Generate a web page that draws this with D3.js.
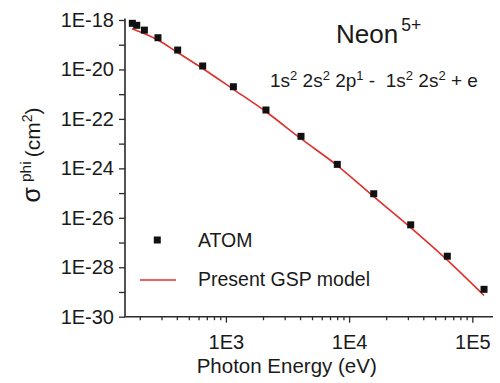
<!DOCTYPE html>
<html>
<head>
<meta charset="utf-8">
<script src="https://cdn.jsdelivr.net/npm/d3@7"></script>
<style>
  html, body { margin: 0; padding: 0; background: #fff; }
  svg { display: block; font-family: "Liberation Sans", Arial, sans-serif; }
  text { white-space: pre; }
</style>
</head>
<body>
<svg id="chart" width="500" height="383"></svg>
<script>
// ATOM photoionization cross sections (eV, cm^2)
const atomEnergy = [174, 189, 218, 281, 406, 648, 1150, 2115, 4070, 8020, 15850, 31620, 62700, 124500];
const atomSigma  = [7.35e-19, 6.1e-19, 3.9e-19, 1.92e-19, 6.1e-20, 1.38e-20, 2.0e-21, 2.29e-22,
                    1.97e-23, 1.45e-24, 9.4e-26, 5.2e-27, 2.8e-28, 1.28e-29];

// Present GSP model curve
const modelEnergy = [173, 281, 406, 648, 1150, 2115, 4070, 8020, 15850, 31620, 62700, 124500];
const modelSigma  = [4.45e-19, 1.55e-19, 4.84e-20, 1.09e-20, 1.57e-21, 1.95e-22, 1.58e-23,
                     1.30e-24, 7.2e-26, 4.0e-27, 1.95e-28, 7.2e-30];

// Axis ticks
const xMajorTicks = [1e3, 1e4, 1e5];
const xMinorTicks = [200, 300, 400, 500, 600, 700, 800, 900,
                     2000, 3000, 4000, 5000, 6000, 7000, 8000, 9000,
                     20000, 30000, 40000, 50000, 60000, 70000, 80000, 90000];
const yMajorTicks = [1e-18, 1e-20, 1e-22, 1e-24, 1e-26, 1e-28, 1e-30];
const yMinorTicks = [1e-19, 1e-21, 1e-23, 1e-25, 1e-27, 1e-29];

const legendLabels = ["ATOM", "Present GSP model"];

const svg = d3.select("#chart");
const plotLeft = 125, plotRight = 493, plotTop = 20, plotBottom = 316.7;

// x: log scale anchored on the decade ticks, then widened to the axis extent
const xs = d3.scaleLog().domain([1e3, 1e5]).range([225.9, 472.3]);
const x = d3.scaleLog().domain([xs.invert(plotLeft), xs.invert(plotRight)]).range([plotLeft, plotRight]);
const y = d3.scaleLog().domain([1e-30, 1e-18]).range([plotBottom, plotTop]);

const expLabel = d => "1E" + Math.round(Math.log10(d));

const axisColor = "#2a2a2a";
const textColor = "#1a1a1a";
const fontFam = "Liberation Sans, Arial, sans-serif";

// Left axis
const gy = svg.append("g").attr("transform", `translate(${plotLeft},0)`);
gy.call(d3.axisLeft(y).tickValues(yMajorTicks).tickFormat(expLabel).tickSize(6).tickPadding(5));
gy.call(g => g.select(".domain").remove());
gy.selectAll(".tick line").attr("stroke", axisColor).attr("stroke-width", 1.3);
gy.selectAll(".tick text").attr("font-size", 20).attr("fill", textColor).attr("font-family", fontFam);
const gyMinor = svg.append("g").attr("transform", `translate(${plotLeft},0)`);
gyMinor.call(d3.axisLeft(y).tickValues(yMinorTicks).tickFormat("").tickSize(6));
gyMinor.call(g => g.select(".domain").remove());
gyMinor.selectAll(".tick line").attr("stroke", axisColor).attr("stroke-width", 1.3);

// Bottom axis
const gx = svg.append("g").attr("transform", `translate(0,${plotBottom})`);
gx.call(d3.axisBottom(x).tickValues(xMajorTicks).tickFormat(expLabel).tickSize(6).tickPadding(12));
gx.call(g => g.select(".domain").remove());
gx.selectAll(".tick line").attr("stroke", axisColor).attr("stroke-width", 1.3);
gx.selectAll(".tick text").attr("font-size", 20).attr("fill", textColor).attr("font-family", fontFam);
const gxMinor = svg.append("g").attr("transform", `translate(0,${plotBottom})`);
gxMinor.call(d3.axisBottom(x).tickValues(xMinorTicks).tickFormat("").tickSize(3.5));
gxMinor.call(g => g.select(".domain").remove());
gxMinor.selectAll(".tick line").attr("stroke", axisColor).attr("stroke-width", 1.3);

// Axis lines
svg.append("path")
  .attr("d", `M${plotLeft},${plotTop - 1.5}V${plotBottom}H${plotRight}`)
  .attr("fill", "none").attr("stroke", axisColor).attr("stroke-width", 1.6);

// Model curve
const line = d3.line()
  .x((d, i) => x(modelEnergy[i]))
  .y((d, i) => y(modelSigma[i]))
  .curve(d3.curveMonotoneX);
svg.append("path")
  .datum(modelEnergy)
  .attr("d", line)
  .attr("fill", "none")
  .attr("stroke", "#e0312b")
  .attr("stroke-width", 1.6);

// ATOM points
const sq = 7;
svg.append("g").selectAll("rect")
  .data(atomEnergy)
  .join("rect")
  .attr("x", d => x(d) - sq / 2)
  .attr("y", (d, i) => y(atomSigma[i]) - sq / 2)
  .attr("width", sq).attr("height", sq)
  .attr("fill", "#111");

// Legend
const lg = svg.append("g");
lg.append("rect").attr("x", 157.3 - sq / 2).attr("y", 240 - sq / 2)
  .attr("width", sq).attr("height", sq).attr("fill", "#111");
lg.append("text").attr("x", 198).attr("y", 246.5).attr("font-size", 19.5)
  .attr("fill", textColor).text(legendLabels[0]);
lg.append("line").attr("x1", 140).attr("x2", 176).attr("y1", 280).attr("y2", 280)
  .attr("stroke", "#e0312b").attr("stroke-width", 1.6);
lg.append("text").attr("x", 198).attr("y", 285.5).attr("font-size", 19.5)
  .attr("fill", textColor).text(legendLabels[1]);

// X axis title
svg.append("text").attr("x", 286.7).attr("y", 373).attr("text-anchor", "middle")
  .attr("font-size", 20.5).attr("fill", textColor).text("Photon Energy (eV)");

// Y axis title: sigma^phi (cm^2)
const yt = svg.append("text")
  .attr("transform", "translate(40,155) rotate(-90)")
  .attr("text-anchor", "middle")
  .attr("fill", textColor);
yt.append("tspan").attr("font-size", 25).text("σ");
yt.append("tspan").attr("font-size", 15.5).attr("dx", 5).attr("dy", -9).text("phi");
yt.append("tspan").attr("font-size", 21).attr("dx", 4).attr("dy", 9).text("(cm");
yt.append("tspan").attr("font-size", 14).attr("dy", -8).text("2");
yt.append("tspan").attr("font-size", 21).attr("dy", 8).text(")");

// Ion label
const ion = svg.append("text").attr("x", 336).attr("y", 43.3).attr("fill", textColor);
ion.append("tspan").attr("font-size", 26).text("Neon");
ion.append("tspan").attr("font-size", 17.5).attr("dx", 3).attr("dy", -12).text("5+");

// Transition label: 1s2 2s2 2p1 - 1s2 2s2 + e
const trBase = 86.7, trSup = 79.5;
const tr = svg.append("text").attr("x", 270).attr("y", trBase).attr("fill", textColor);
const parts = [["1s", "2"], [" 2s", "2"], [" 2p", "1"], [" -  1s", "2"], [" 2s", "2"], [" + e", null]];
parts.forEach(([base, sup]) => {
  tr.append("tspan").attr("font-size", 19).attr("y", trBase).text(base);
  if (sup !== null) tr.append("tspan").attr("font-size", 13).attr("y", trSup).text(sup);
});
</script>
</body>
</html>
